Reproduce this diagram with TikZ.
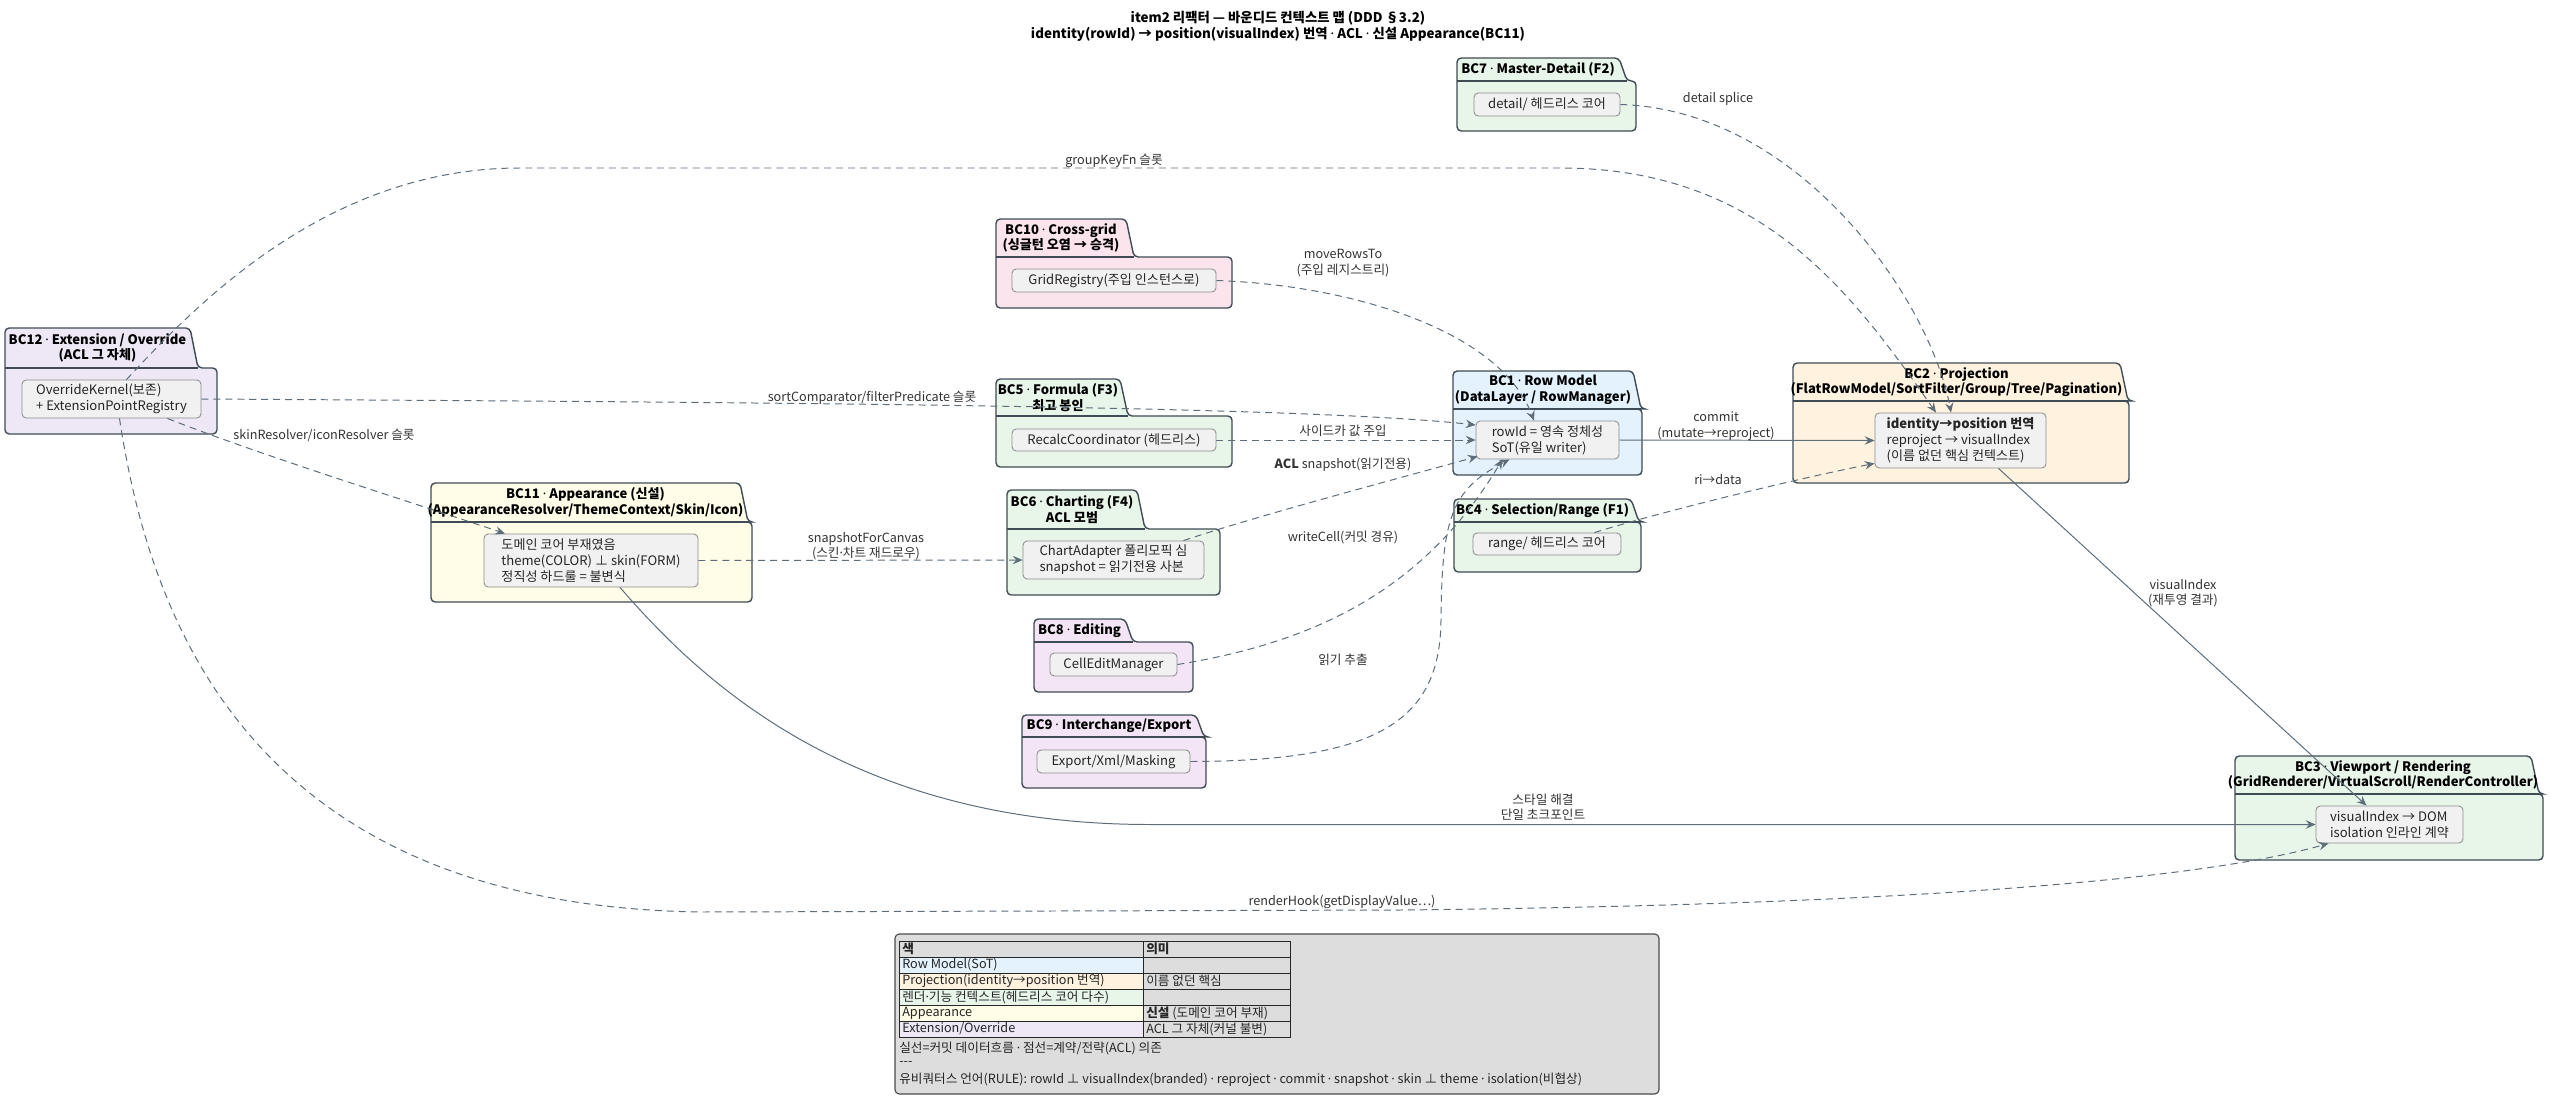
\documentclass[tikz,border=0pt]{standalone}
\usepackage{fontspec}
\setmainfont{Noto Sans CJK KR}
\newfontfamily\dotfont{Noto Sans}
\usepackage{newunicodechar}
\newunicodechar{·}{{\dotfont ·}}
\usetikzlibrary{arrows.meta,calc}

\definecolor{pkgline}{HTML}{3F4B55}
\definecolor{edgeline}{HTML}{5D6D7A}
\definecolor{compfill}{HTML}{F1F1F1}
\definecolor{compline}{HTML}{8C8C8C}
\definecolor{rowblue}{HTML}{E3F2FD}
\definecolor{projorange}{HTML}{FFF3E0}
\definecolor{rendergreen}{HTML}{E8F5E9}
\definecolor{appyellow}{HTML}{FFFDE7}
\definecolor{extlavender}{HTML}{EDE7F6}
\definecolor{gridpink}{HTML}{FCE4EC}
\definecolor{editpurple}{HTML}{F3E5F5}
\definecolor{legendgray}{HTML}{DDDDDD}

\tikzstyle{package} = [draw=pkgline, line width=1pt, rounded corners=3pt]
\tikzstyle{pkgtitle} = [font=\fontsize{9.3}{11.2}\selectfont\bfseries, align=center, inner sep=0pt]
\tikzstyle{comp} = [draw=compline, fill=compfill, line width=0.6pt, rounded corners=3pt, inner sep=0pt, align=left, font=\fontsize{9.3}{11.4}\selectfont, text=black!85]
\tikzstyle{flow} = [draw=edgeline, line width=0.7pt, -{Stealth[length=7pt,width=6pt,inset=2.5pt]}]
\tikzstyle{contract} = [flow, dash pattern=on 5pt off 3.5pt]
\tikzstyle{elabel} = [font=\fontsize{9}{11}\selectfont, align=center, inner sep=0pt, text=black!80]
\tikzstyle{lgtext} = [font=\fontsize{9}{11}\selectfont, anchor=west, inner sep=0pt, text=black!85]
\tikzset{boxsize/.style 2 args={minimum width=#1*0.025cm, minimum height=#2*0.025cm}}

% name, fill, left, top, tab right, tab bottom, right, bottom, title
\newcommand{\bcpackage}[9]{
 \filldraw[package,fill=#2] (#3,#8) -- (#3,#4) -- (#5,#4) -- (#5+8,#6) -- (#7,#6) -- (#7,#8) -- cycle;
 \draw[package,rounded corners=0pt] (#3,#6) -- (#5+8,#6);
 \node (#1t) [pkgtitle] at ({(#3+#5)/2},{(#4+#6)/2}) {#9};
}

\begin{document}
\begin{tikzpicture}[x=0.025cm, y=-0.025cm]
    \useasboundingbox (0,0) rectangle (2560,1111);
    \fill[white] (0,0) rectangle (2560,1111);

    \node (title) [font=\fontsize{9.5}{11.4}\selectfont\bfseries, align=center] at (1278,26)
      {item2 리팩터 — 바운디드 컨텍스트 맵 (DDD §3.2)\\identity(rowId) → position(visualIndex) 번역 · ACL · 신설 Appearance(BC11)};

    \bcpackage{bc12}{extlavender}{5}{328}{190}{368}{217}{434}{BC12 · Extension / Override\\(ACL 그 자체)}
    \bcpackage{bc11}{appyellow}{431}{483}{740}{522}{752}{602}{BC11 · Appearance (신설)\\(AppearanceResolver/ThemeContext/Skin/Icon)}
    \bcpackage{bc10}{gridpink}{996}{219}{1126}{257}{1232}{308}{BC10 · Cross-grid\\(싱글턴 오염 → 승격)}
    \bcpackage{bc5}{rendergreen}{996}{379}{1120}{416}{1232}{467}{BC5 · Formula (F3)\\최고 봉인}
    \bcpackage{bc6}{rendergreen}{1007}{490}{1137}{529}{1220}{595}{BC6 · Charting (F4)\\ACL 모범}
    \bcpackage{bc8}{editpurple}{1034}{619}{1125}{642}{1193}{692}{BC8 · Editing}
    \bcpackage{bc9}{editpurple}{1022}{715}{1196}{737}{1206}{788}{BC9 · Interchange/Export}
    \bcpackage{bc7}{rendergreen}{1457}{58}{1619}{81}{1636}{131}{BC7 · Master-Detail (F2)}
    \bcpackage{bc1}{rowblue}{1453}{371}{1633}{409}{1642}{475}{BC1 · Row Model\\(DataLayer / RowManager)}
    \bcpackage{bc4}{rendergreen}{1454}{499}{1631}{522}{1641}{572}{BC4 · Selection/Range (F1)}
    \bcpackage{bc2}{projorange}{1793}{363}{2120}{401}{2129}{483}{BC2 · Projection\\(FlatRowModel/SortFilter/Group/Tree/Pagination)}
    \bcpackage{bc3}{rendergreen}{2235}{756}{2531}{794}{2543}{860}{BC3 · Viewport / Rendering\\(GridRenderer/VirtualScroll/RenderController)}

    \node (bc12) [comp, boxsize={179}{38}] at (111.5,399) {OverrideKernel(보존)\\+ ExtensionPointRegistry};
    \node (bc11) [comp, boxsize={214}{53}] at (591,560.5) {도메인 코어 부재였음\\theme(COLOR) ⊥ skin(FORM)\\정직성 하드룰 = 불변식};
    \node (bc10) [comp, boxsize={204}{23}] at (1114,280.5) {GridRegistry(주입 인스턴스로)};
    \node (bc5) [comp, boxsize={204}{22}] at (1114,440) {RecalcCoordinator (헤드리스)};
    \node (bc6) [comp, boxsize={181}{38}] at (1113.5,560) {ChartAdapter 폴리모픽 심\\snapshot = 읽기전용 사본};
    \node (bc8) [comp, boxsize={127}{23}] at (1113.5,664.5) {CellEditManager};
    \node (bc9) [comp, boxsize={153}{23}] at (1113.5,761.5) {Export/Xml/Masking};
    \node (bc7) [comp, boxsize={146}{23}] at (1547,104.5) {detail/ 헤드리스 코어};
    \node (bc1) [comp, boxsize={143}{38}] at (1547.5,440) {rowId = 영속 정체성\\SoT(유일 writer)};
    \node (bc4) [comp, boxsize={148}{22}] at (1547,544) {range/ 헤드리스 코어};
    \node (bc2) [comp, boxsize={171}{55}] at (1960.5,440.5) {\textbf{identity→position 번역}\\reproject → visualIndex\\(이름 없던 핵심 컨텍스트)};
    \node (bc3) [comp, boxsize={147}{37}] at (2389.5,824.5) {visualIndex → DOM\\isolation 인라인 계약};

    % slots opened by BC12
    \draw[contract] ($(bc12.north)+(15,0)$) .. controls (200,300) and (330,168) .. (520,168) -- (1560,168)
      .. controls (1760,168) and (1850,290) .. ($(bc2.north)+(-24.5,0)$);
    \draw[contract] (bc12.east) .. controls (700,402) and (1300,405) .. ($(bc1.west)+(0,-15)$);
    \draw[contract] ($(bc12.south east)+(-34,0)$) .. controls (260,455) and (420,505) .. ($(bc11.north)+(-86,0)$);
    \draw[contract] ($(bc12.south)+(8,0)$) .. controls (150,620) and (250,905) .. (700,912) -- (1400,910)
      .. controls (1900,905) and (2200,880) .. ($(bc3.south)+(-61,0)$);

    % appearance
    \draw[contract] (bc11.east) -- (bc6.west);
    \draw[flow] ($(bc11.south)+(29,0)$) .. controls (700,680) and (850,824.5) .. (1150,824.5) -- (bc3.west);

    % into the row model
    \draw[contract] (bc10.east) .. controls (1350,285) and (1500,330) .. ($(bc1.north)+(-13.5,0)$);
    \draw[contract] (bc5.east) -- (bc1.west);
    \draw[contract] ($(bc6.north east)+(-21,0)$) .. controls (1260,515) and (1400,478) .. ($(bc1.south west)+(2,-3)$);
    \draw[contract] (bc8.east) .. controls (1330,640) and (1430,580) .. ($(bc1.south)+(-45,0)$);
    \draw[contract] (bc9.east) .. controls (1380,761) and (1440,720) .. (1441,620)
      .. controls (1442,520) and (1450,490) .. ($(bc1.south)+(-38,0)$);

    % projection and viewport
    \draw[flow] (bc1.east) -- (bc2.west);
    \draw[contract] ($(bc4.north east)+(-27,0)$) .. controls (1660,512) and (1800,478) .. ($(bc2.south west)+(0,-5)$);
    \draw[contract] (bc7.east) .. controls (1800,110) and (1930,300) .. ($(bc2.north)+(-9.5,0)$);
    \draw[flow] ($(bc2.south)+(38,0)$) -- ($(bc3.north)+(-23,0)$);

    \node (lbgroup) [elabel] at (1114,161) {groupKeyFn 슬롯};
    \node (lbsort) [elabel] at (872,398) {sortComparator/filterPredicate 슬롯};
    \node (lbskin) [elabel] at (324,435) {skinResolver/iconResolver 슬롯};
    \node (lbhook) [elabel] at (1342,902) {renderHook(getDisplayValue…)};
    \node (lbcanvas) [elabel] at (866,546) {snapshotForCanvas\\(스킨·차트 재드로우)};
    \node (lbstyle) [elabel] at (1543,807) {스타일 해결\\단일 초크포인트};
    \node (lbmove) [elabel] at (1343,263) {moveRowsTo\\(주입 레지스트리)};
    \node (lbside) [elabel] at (1343,431) {사이드카 값 주입};
    \node (lbacl) [elabel] at (1343,465) {\textbf{ACL} snapshot(읽기전용)};
    \node (lbwrite) [elabel] at (1343,538) {writeCell(커밋 경유)};
    \node (lbread) [elabel] at (1343,660) {읽기 추출};
    \node (lbcommit) [elabel] at (1716,426) {commit\\(mutate→reproject)};
    \node (lbri) [elabel] at (1718,480) {ri→data};
    \node (lbdetail) [elabel] at (1718,99) {detail splice};
    \node (lbvis) [elabel] at (2183,593) {visualIndex\\(재투영 결과)};

    % legend
    \filldraw[fill=legendgray, draw=black!70, line width=0.8pt, rounded corners=3pt] (895,934) rectangle (1659,1094);
    \foreach \r/\c/\ta/\tb in {1/rowblue/{Row Model(SoT)}/{},
        2/projorange/{Projection(identity→position 번역)}/{이름 없던 핵심},
        3/rendergreen/{렌더·기능 컨텍스트(헤드리스 코어 다수)}/{},
        4/appyellow/{Appearance}/{\textbf{신설} (도메인 코어 부재)},
        5/extlavender/{Extension/Override}/{ACL 그 자체(커널 불변)}} {
     \fill[\c] (899,941+16*\r) rectangle (1143,957+16*\r);
     \node (lgc\r) [lgtext] at (902,949+16*\r) {\ta};
     \node (lgm\r) [lgtext] at (1146,949+16*\r) {\tb};
    }
    \draw[black!85, line width=0.7pt] (899,941) rectangle (1290,1037) (1143,941) -- (1143,1037);
    \foreach \r in {0,...,4}
     \draw[black!85, line width=0.7pt] (899,957+16*\r) -- (1290,957+16*\r);
    \node (lghc) [lgtext, font=\fontsize{9}{11}\selectfont\bfseries] at (902,949) {색};
    \node (lghm) [lgtext, font=\fontsize{9}{11}\selectfont\bfseries] at (1146,949) {의미};
    \node (lgnote) [lgtext] at (899,1048) {실선=커밋 데이터흐름 · 점선=계약/전략(ACL) 의존};
    \node (lgsep) [lgtext] at (899,1063) {{-}{-}{-}};
    \node (lgrule) [lgtext] at (899,1080) {유비쿼터스 언어(RULE): rowId ⊥ visualIndex(branded) · reproject · commit · snapshot · skin ⊥ theme · isolation(비협상)};
\end{tikzpicture}
\end{document}
